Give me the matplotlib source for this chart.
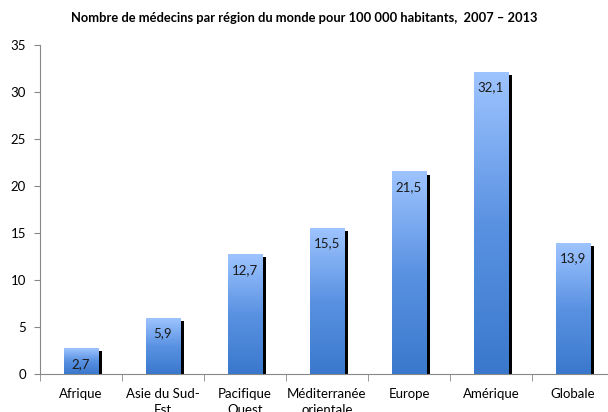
import numpy as np
import matplotlib
matplotlib.use("Agg")
import matplotlib.pyplot as plt
from matplotlib.colors import LinearSegmentedColormap

categories = ["Afrique", "Asie du Sud-\nEst", "Pacifique\nOuest", "Méditerranée\norientale",
              "Europe", "Amérique", "Globale"]
values = [2.7, 5.9, 12.7, 15.5, 21.5, 32.1, 13.9]
value_labels = ["2,7", "5,9", "12,7", "15,5", "21,5", "32,1", "13,9"]
title = "Nombre de médecins par région du monde pour 100 000 habitants,  2007 – 2013"
yticks = [0, 5, 10, 15, 20, 25, 30, 35]

plt.rcParams['font.family'] = ['Lato', 'DejaVu Sans']

fig = plt.figure(figsize=(6.08, 4.12), dpi=100)
ax = fig.add_axes([40/608, 1-374/412, 574/608, (374-45)/412])

x = np.arange(len(values))
bw = 0.42
# shadow bars
ax.bar(x + bw/2 + 0.018, np.array(values) - 0.3, width=0.045, color="black", zorder=2)
bars = ax.bar(x, values, width=bw, color="none", zorder=3)

cmap = LinearSegmentedColormap.from_list("g", ["#3A78CC", "#5A92E2", "#9EC4FF"])
grad = np.linspace(0, 1, 256).reshape(-1, 1)
for b in bars:
    x0, y0 = b.get_x(), b.get_y()
    w, h = b.get_width(), b.get_height()
    ax.imshow(grad, extent=[x0, x0 + w, y0, y0 + h], origin="lower", cmap=cmap,
              aspect="auto", zorder=3, interpolation="bicubic")

for xi, v, lab in zip(x, values, value_labels):
    ax.text(xi, v - 1.6, lab, ha="center", va="center", fontsize=9.5, color="#1a1a1a", zorder=4)

ax.set_xlim(-0.5, len(values) - 0.5)
ax.set_ylim(0, 35)
ax.set_yticks(yticks)
ax.set_yticklabels([str(t) for t in yticks], fontsize=9.5)
ax.set_xticks(x)
ax.set_xticklabels(categories, fontsize=9.5, linespacing=1.45)
ax.set_xticks(np.arange(len(values) + 1) - 0.5, minor=True)
ax.tick_params(axis="x", which="major", length=0, pad=10)
ax.tick_params(axis="x", which="minor", length=5, color="#888888")
ax.tick_params(axis="y", length=4, color="#888888", pad=6)

for s in ["top", "right"]:
    ax.spines[s].set_visible(False)
for s in ["left", "bottom"]:
    ax.spines[s].set_color("#888888")

fig.text(0.5, 1-18/412, title, ha="center", va="center", fontsize=9.3, fontweight="bold")

fig.savefig("out.png", dpi=100)
